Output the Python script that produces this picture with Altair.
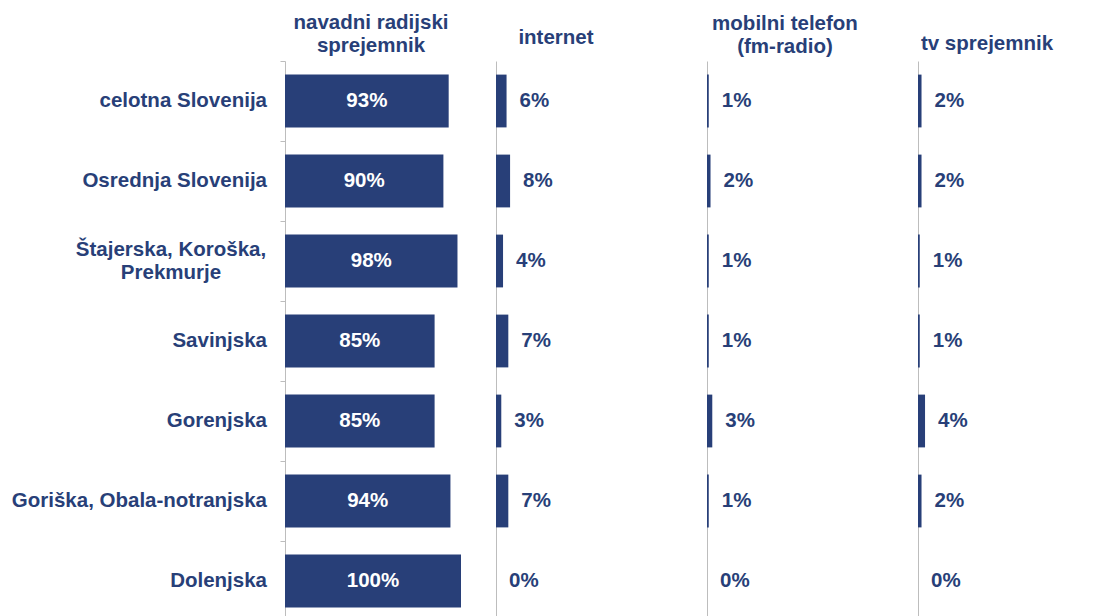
import altair as alt
import pandas as pd

regions = [
    "celotna Slovenija",
    "Osrednja Slovenija",
    "Štajerska, Koroška,\nPrekmurje",
    "Savinjska",
    "Gorenjska",
    "Goriška, Obala-notranjska",
    "Dolenjska",
]
radio = [93, 90, 98, 85, 85, 94, 100]
internet = [6, 8, 4, 7, 3, 7, 0]
mobile = [1, 2, 1, 1, 3, 1, 0]
tv = [2, 2, 1, 1, 4, 2, 0]

titles = [
    ["navadni radijski", "sprejemnik"],
    "internet",
    ["mobilni telefon", "(fm-radio)"],
    "tv sprejemnik",
]

NAVY = "#283F78"
GRAY = "#BDBDBD"
FONT = "Liberation Sans"
FS = 20.5

df = pd.DataFrame({"region": regions, "radio": radio, "internet": internet, "mobile": mobile, "tv": tv})

W = 176
H = 560


def ybase(first):
    return alt.Y(
        "region:N",
        sort=regions,
        scale=alt.Scale(paddingInner=0, paddingOuter=0),
        axis=alt.Axis(
            labels=False,
            ticks=first,
            tickSize=5,
            tickColor=GRAY,
            bandPosition=0,
            domainColor=GRAY,
            domainWidth=1,
            title=None,
            grid=False,
        ),
    )


def panel(col, title, first, tdx, toff):
    base = alt.Chart(df).encode(y=ybase(first))
    xs = alt.Scale(domain=[0, 100], nice=False)
    bars = base.mark_bar(color=NAVY, height={"band": 0.66}).encode(
        x=alt.X(f"{col}:Q", scale=xs, axis=None)
    )
    layers = [bars]
    if first:
        lab = base.transform_calculate(
            mid=f"datum.{col} / 2", lbl=f"datum.{col} + '%'"
        ).mark_text(color="white", font=FONT, fontSize=FS, fontWeight="bold", align="center", baseline="middle").encode(
            x=alt.X("mid:Q", scale=xs, axis=None), text="lbl:N"
        )
        layers.append(lab)
        single = base.transform_filter(
            "indexof(datum.region, '\\n') < 0"
        ).mark_text(color=NAVY, font=FONT, fontSize=FS, fontWeight="bold", align="right", baseline="middle").encode(
            x=alt.value(-18), text="region:N"
        )
        multi = base.transform_filter(
            "indexof(datum.region, '\\n') >= 0"
        ).mark_text(color=NAVY, font=FONT, fontSize=FS, fontWeight="bold", align="center", baseline="middle",
                    lineBreak="\n", lineHeight=23, dy=-11).encode(
            x=alt.value(-114), text="region:N"
        )
        layers += [single, multi]
    else:
        lab = base.transform_calculate(lbl=f"datum.{col} + '%'").mark_text(
            color=NAVY, font=FONT, fontSize=FS, fontWeight="bold", align="left", baseline="middle", dx=13
        ).encode(x=alt.X(f"{col}:Q", scale=xs, axis=None), text="lbl:N")
        layers.append(lab)
    return alt.layer(*layers).properties(
        width=W,
        height=H,
        title=alt.TitleParams(
            text=title,
            font=FONT,
            fontSize=FS,
            fontWeight="bold",
            color=NAVY,
            anchor="middle",
            frame="group",
            dx=tdx,
            offset=toff,
            lineHeight=23,
        ),
    )


chart = alt.hconcat(
    panel("radio", titles[0], True, -2, 4),
    panel("internet", titles[1], False, -28, 13),
    panel("mobile", titles[2], False, -10, 4),
    panel("tv", titles[3], False, -19, 7),
    spacing=35,
    bounds="flush",
).properties(
    padding={"left": 3, "top": 5, "right": 5, "bottom": 0}
).configure_view(stroke=None)

chart.save("out.html", embed_options={"renderer": "svg", "actions": False})
